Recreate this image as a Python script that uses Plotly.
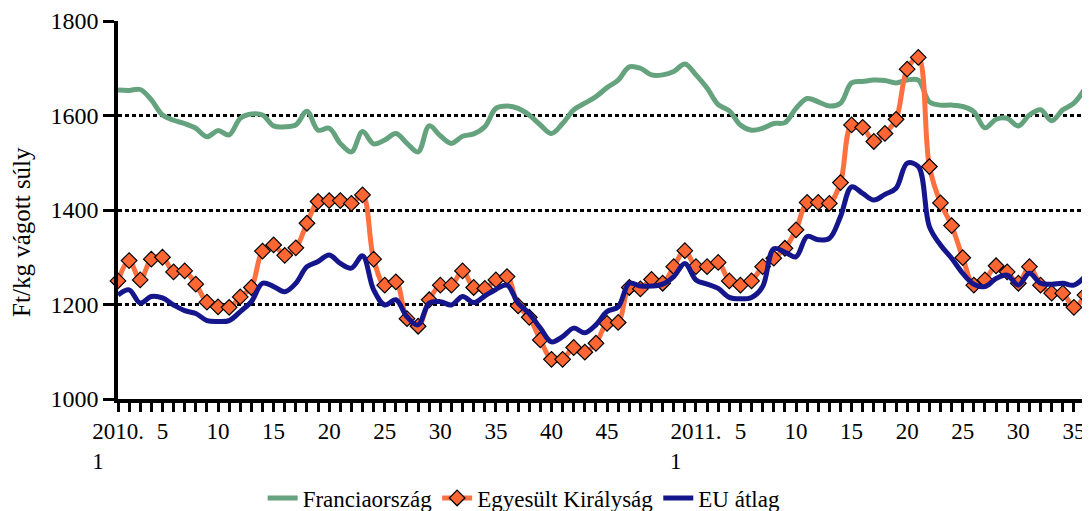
import plotly.graph_objects as go

# weeks: 2010 week 1-52, 2011 week 1-36
weeks = [f"2010. {w}" for w in range(1, 53)] + [f"2011. {w}" for w in range(1, 37)]

francia = [1654, 1653, 1655, 1633, 1601, 1590, 1583, 1573, 1555, 1568,
           1559, 1594, 1603, 1601, 1578, 1576, 1580, 1609, 1569, 1573,
           1541, 1523, 1566, 1540, 1548, 1562, 1541, 1523, 1578,
           1557, 1541, 1556, 1561, 1576, 1615, 1620, 1615, 1601, 1580,
           1562, 1583, 1612, 1626, 1640, 1659, 1675, 1703, 1700, 1686,
           1686, 1693, 1709, 1686, 1658, 1623, 1610,
           1580, 1569, 1573, 1583, 1585, 1615, 1636, 1629, 1620, 1626,
           1669, 1672, 1675, 1674, 1669, 1675, 1675, 1629, 1622, 1622,
           1619, 1608, 1574, 1592, 1594, 1578, 1601, 1612, 1589, 1612,
           1626, 1657]

uk = [1250, 1293, 1252, 1296, 1300, 1269, 1271, 1243, 1205, 1195,
      1194, 1216, 1236, 1313, 1326, 1304, 1320, 1372, 1418, 1420,
      1420, 1414, 1432, 1296, 1241, 1248, 1170, 1154, 1210,
      1241, 1241, 1271, 1236, 1234, 1252, 1259, 1197, 1173, 1125,
      1084, 1084, 1109, 1099, 1118, 1160, 1162, 1236, 1233, 1253,
      1245, 1280, 1314, 1280, 1280, 1289, 1250,
      1241, 1250, 1280, 1298, 1319, 1358, 1416, 1416, 1414, 1458,
      1580, 1575, 1545, 1562, 1592, 1698, 1723, 1492, 1415, 1367,
      1299, 1241, 1252, 1282, 1269, 1245, 1280, 1241, 1224, 1224,
      1194, 1220]

eu = [1220, 1231, 1203, 1217, 1214, 1199, 1187, 1181, 1166, 1164,
      1166, 1185, 1206, 1245, 1238, 1227, 1245, 1280, 1291, 1305,
      1287, 1277, 1303, 1231, 1199, 1210, 1174, 1157, 1203,
      1206, 1199, 1217, 1204, 1218, 1232, 1241, 1203, 1181, 1150,
      1121, 1132, 1150, 1140, 1157, 1185, 1195, 1245, 1239, 1239,
      1243, 1259, 1287, 1252, 1243, 1234, 1215,
      1212, 1215, 1238, 1318, 1311, 1301, 1344, 1337, 1340, 1386,
      1449, 1435, 1421, 1433, 1446, 1499, 1492, 1365, 1326, 1298,
      1266, 1243, 1238, 1255, 1262, 1241, 1266, 1245, 1243, 1245,
      1241, 1259]

# tick labels: year on week 1, then every 5th week (no 50 in 2010)
tick_text = []
for lab in weeks:
    year, w = lab.split(". ")
    w = int(w)
    if w == 1:
        tick_text.append(year + ".<br>1" + "\u00a0" * 7)
    elif w % 5 == 0 and w < 50:
        tick_text.append(str(w))
    else:
        tick_text.append("")

FONT = "Liberation Serif, Times New Roman, serif"

fig = go.Figure()
fig.add_trace(go.Scatter(x=weeks, y=francia, name="Franciaország", mode="lines",
                         line=dict(color="#65a37e", width=5, shape="spline"),
                         cliponaxis=False))
fig.add_trace(go.Scatter(x=weeks, y=uk, name="Egyesült Királyság", mode="lines+markers",
                         line=dict(color="#ff7040", width=5, shape="spline"),
                         marker=dict(symbol="diamond", size=12, color="#ff6633",
                                     line=dict(color="black", width=1.2)),
                         cliponaxis=False))
fig.add_trace(go.Scatter(x=weeks, y=eu, name="EU átlag", mode="lines",
                         line=dict(color="#16168c", width=5, shape="spline"),
                         cliponaxis=False))

# the page body has an 8px margin, so the figure is 8px smaller and shifted
fig.update_layout(
    width=1082, height=503,
    margin=dict(l=110, r=5, t=13, b=112, autoexpand=False),
    plot_bgcolor="white", paper_bgcolor="white",
    font=dict(family=FONT, size=23, color="black"),
    legend=dict(orientation="h", x=0.42, xanchor="center", y=-0.262, yanchor="middle",
                font=dict(family=FONT, size=23), itemwidth=30),
    xaxis=dict(type="category", range=[0, len(weeks) - 1],
               tickmode="array", tickvals=weeks, ticktext=tick_text,
               showline=True, linecolor="black", linewidth=3.5,
               ticks="outside", ticklen=9, tickwidth=2.5, tickcolor="black",
               showgrid=False, tickangle=0, tickfont=dict(family=FONT, size=23)),
    yaxis=dict(range=[1000, 1800], tickvals=[1000, 1200, 1400, 1600, 1800],
               showline=True, linecolor="black", linewidth=3.5,
               ticks="outside", ticklen=11, tickwidth=3, tickcolor="black",
               showgrid=True, gridcolor="black", gridwidth=3, griddash="4px,3px",
               zeroline=False, tickfont=dict(family=FONT, size=24)),
    annotations=[dict(text="Ft/kg vágott súly", textangle=-90, showarrow=False,
                      xref="paper", yref="paper", x=-0.0993, y=0.442,
                      xanchor="center", yanchor="middle",
                      font=dict(family=FONT, size=25))],
)

fig.write_html("out.html")
